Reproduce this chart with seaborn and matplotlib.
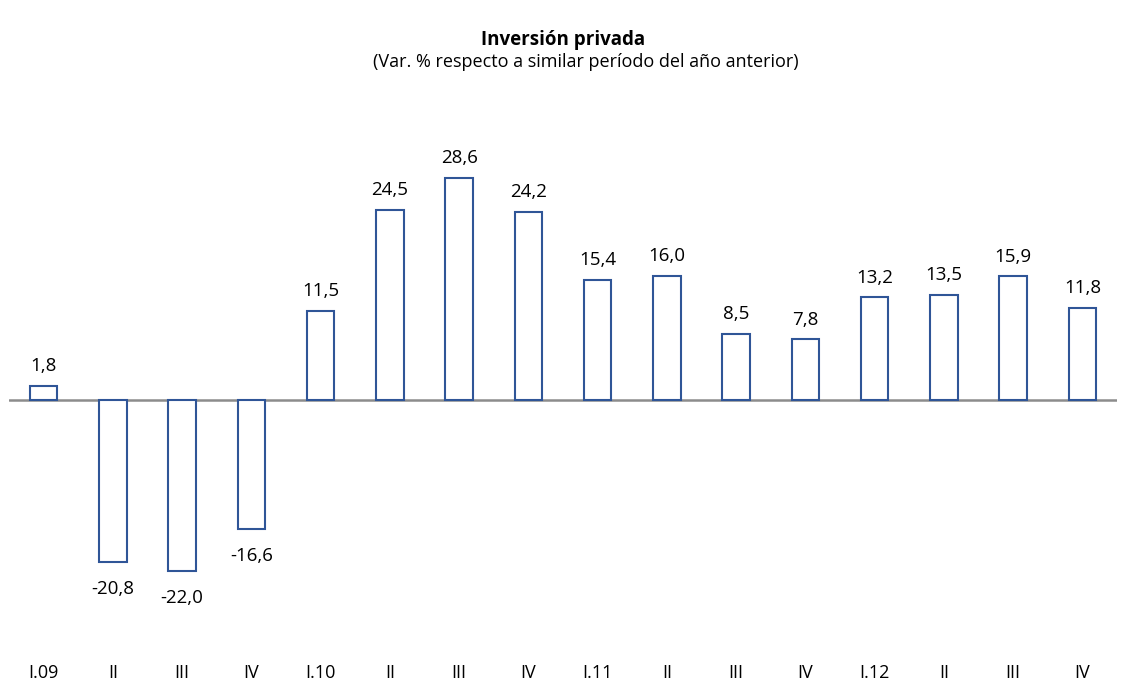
import matplotlib
matplotlib.use("Agg")
import matplotlib.pyplot as plt
import seaborn as sns
import pandas as pd

categories = ["I.09", "II", "III", "IV", "I.10", "II", "III", "IV",
              "I.11", "II", "III", "IV", "I.12", "II", "III", "IV"]
values = [1.8, -20.8, -22.0, -16.6, 11.5, 24.5, 28.6, 24.2,
          15.4, 16.0, 8.5, 7.8, 13.2, 13.5, 15.9, 11.8]
labels = ["1,8", "-20,8", "-22,0", "-16,6", "11,5", "24,5", "28,6", "24,2",
          "15,4", "16,0", "8,5", "7,8", "13,2", "13,5", "15,9", "11,8"]

sns.set_style("white")
plt.rcParams["font.family"] = ["Open Sans", "DejaVu Sans"]
plt.rcParams["text.color"] = "black"
plt.rcParams["xtick.color"] = "black"

df = pd.DataFrame({"pos": list(range(len(values))), "val": values})

fig = plt.figure(figsize=(11.26, 6.81), dpi=100)
ax = fig.add_axes([9 / 1126, 36 / 681, 1108 / 1126, 545 / 681])

sns.barplot(data=df, x="pos", y="val", ax=ax, color="white",
            edgecolor="#2F5597", linewidth=1.5, width=0.4)
ax.set_xlim(-0.5, len(values) - 0.5)
ax.set_ylim(-31.5, 38.6)
ax.axhline(0, color="#8C8C8C", linewidth=1.8, zorder=0.5)

for i, (v, lab) in enumerate(zip(values, labels)):
    if v >= 0:
        ax.text(i, v + 1.4, lab, ha="center", va="bottom", fontsize=13.5, color="black")
    else:
        ax.text(i, v - 2.3, lab, ha="center", va="top", fontsize=13.5, color="black")

ax.set_xticks(range(len(categories)))
ax.set_xticklabels(categories, fontsize=13, color="black")
ax.tick_params(axis="x", length=0, pad=14)
ax.set_yticks([])
ax.set_xlabel("")
ax.set_ylabel("")
for s in ax.spines.values():
    s.set_visible(False)

fig.text(0.5, 1 - 40 / 681, "Inversión privada", ha="center", va="center",
         fontsize=13.5, fontweight="bold", color="black")
fig.text(0.52, 1 - 62 / 681, "(Var. % respecto a similar período del año anterior)",
         ha="center", va="center", fontsize=13, color="black")

fig.savefig("out.png", dpi=100)
